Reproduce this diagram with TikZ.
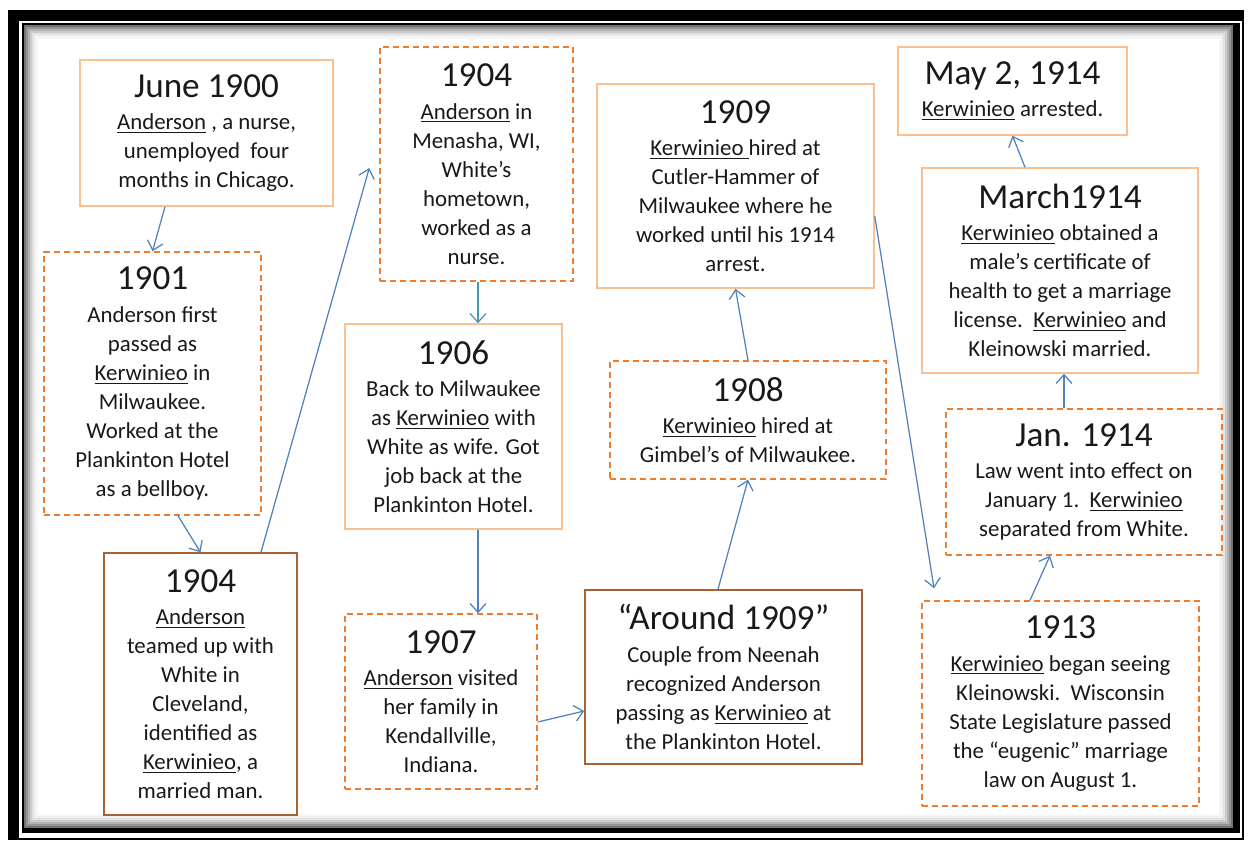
\documentclass[tikz,border=0pt]{standalone}
\usepackage{fontspec}
\setmainfont{Carlito}
\usepackage{tikz}
\usetikzlibrary{arrows.meta, calc}
\definecolor{arrowblue}{RGB}{79,129,189}
\definecolor{arrowteal}{RGB}{75,150,170}
\definecolor{dashorange}{RGB}{237,125,49}
\definecolor{peachline}{RGB}{250,192,143}
\definecolor{brownline}{RGB}{168,98,48}
\newcommand{\yrfont}{\fontsize{20}{24}\selectfont}
\tikzset{
  base/.style={line width=0.85pt, align=center, inner sep=2pt,
               font=\fontsize{13}{16.5}\selectfont, text=black!90},
  plainbox/.style = {base, draw=peachline},
  dashbox/.style  = {base, draw=dashorange, dash pattern=on 3.4pt off 2.3pt},
  keybox/.style   = {base, draw=brownline},
  arr/.style      = {-{Straight Barb[length=5pt,width=9pt]}, line width=0.7pt, color=arrowblue},
}

\begin{document}
\begin{tikzpicture}
  \useasboundingbox (0,0) rectangle (24.96,-16.82);

  % page frame
  \fill[black] (0.16,-0.20) rectangle (24.88,-16.80);
  \fill[white] (0.38,-0.42) rectangle (24.84,-16.76);
  \fill[black] (0.44,-0.46) rectangle (24.80,-16.66);
  \fill[white] (0.48,-0.50) rectangle (24.66,-16.56);
  \foreach \i/\c in {0/55,1/42,2/30,3/20,4/12,5/6,6/3}
    \draw[black!\c, line width=0.045cm]
      ({0.50+0.04*\i},{-0.52-0.04*\i}) rectangle ({24.64-0.04*\i},{-16.54+0.04*\i});

  % left column
  \node[plainbox, minimum width=5.06cm, minimum height=2.92cm] (jun1900) at (4.13,-2.66)
    {{\yrfont June 1900}\\[2pt] \underline{Anderson} , a nurse,\\ unemployed\ \ four\\ months in Chicago.};
  \node[dashbox, minimum width=4.34cm, minimum height=5.26cm] (y1901) at (3.05,-7.67)
    {{\yrfont 1901}\\[2pt] Anderson first\\ passed as\\ \underline{Kerwinieo} in\\ Milwaukee.\\ Worked at the\\ Plankinton Hotel\\ as a bellboy.};
  \node[keybox, minimum width=3.86cm, minimum height=5.24cm] (y1904a) at (4.01,-13.68)
    {{\yrfont 1904}\\[2pt] \underline{Anderson}\\ teamed up with\\ White in\\ Cleveland,\\ identified as\\ \underline{Kerwinieo}, a\\ married man.};

  % second column
  \node[dashbox, minimum width=3.86cm, minimum height=4.68cm] (y1904b) at (9.53,-3.28)
    {{\yrfont 1904}\\[2pt] \underline{Anderson} in\\ Menasha, WI,\\ White’s\\ hometown,\\ worked as a\\ nurse.};
  \node[plainbox, minimum width=4.34cm, minimum height=4.10cm] (y1906) at (9.07,-8.53)
    {{\yrfont 1906}\\[2pt] Back to Milwaukee\\ as \underline{Kerwinieo} with\\ White as wife. Got\\ job back at the\\ Plankinton Hotel.};
  \node[dashbox, minimum width=3.84cm, minimum height=3.50cm] (y1907) at (8.82,-14.03)
    {{\yrfont 1907}\\[2pt] \underline{Anderson} visited\\ her family in\\ Kendallville,\\ Indiana.};

  % third column
  \node[keybox, minimum width=5.54cm, minimum height=3.48cm] (around) at (14.47,-13.54)
    {{\yrfont “Around 1909”}\\[2pt] Couple from Neenah\\ recognized Anderson\\ passing as \underline{Kerwinieo} at\\ the Plankinton Hotel.};
  \node[dashbox, minimum width=5.52cm, minimum height=2.36cm] (y1908) at (14.96,-8.40)
    {{\yrfont 1908}\\[2pt] \underline{Kerwinieo} hired at\\ Gimbel’s of Milwaukee.};
  \node[plainbox, minimum width=5.54cm, minimum height=4.08cm] (y1909) at (14.71,-3.72)
    {{\yrfont 1909}\\[2pt] \underline{Kerwinieo\ }hired at\\ Cutler-Hammer of\\ Milwaukee where he\\ worked until his 1914\\ arrest.};

  % right column
  \node[dashbox, minimum width=5.54cm, minimum height=4.10cm] (y1913) at (21.21,-14.07)
    {{\yrfont 1913}\\[2pt] \underline{Kerwinieo} began seeing\\ Kleinowski.\ \ Wisconsin\\ State Legislature passed\\ the “eugenic” marriage\\ law on August 1.};
  \node[dashbox, minimum width=5.52cm, minimum height=2.92cm] (jan1914) at (21.68,-9.64)
    {{\yrfont Jan. 1914}\\[2pt] Law went into effect on\\ January 1.\ \ \underline{Kerwinieo}\\ separated from White.};
  \node[plainbox, minimum width=5.52cm, minimum height=4.10cm] (mar1914) at (21.20,-5.41)
    {{\yrfont March1914}\\[2pt] \underline{Kerwinieo} obtained a\\ male’s certificate of\\ health to get a marriage\\ license.\ \ \underline{Kerwinieo} and\\ Kleinowski married.};
  \node[plainbox, minimum width=4.58cm, minimum height=1.76cm] (may1914) at (20.25,-1.82)
    {{\yrfont May 2, 1914}\\[2pt] \underline{Kerwinieo} arrested.};

  % connectors
  \draw[arr] ([xshift=-0.83cm]jun1900.south) -- (y1901.north);
  \draw[arr] ([xshift=0.51cm]y1901.south) -- (y1904a.north);
  \draw[arr] ([xshift=1.21cm]y1904a.north) -- ([xshift=-0.2cm,yshift=-0.08cm]y1904b.west);
  \draw[arr,color=arrowteal] ([xshift=0.03cm]y1904b.south) -- ([xshift=0.03cm]y1904b.south |- y1906.north);
  \draw[arr] ([xshift=0.49cm]y1906.south) -- ([xshift=0.49cm]y1906.south |- y1907.north);
  \draw[arr] ([yshift=-0.41cm]y1907.east) -- ([yshift=-0.68cm]around.west);
  \draw[arr] ([xshift=-0.11cm]around.north) -- (y1908.south);
  \draw[arr] (y1908.north) -- (y1909.south);
  \draw[arr] ([yshift=-0.6cm]y1909.east) -- ([xshift=-2.53cm,yshift=0.24cm]y1913.north);
  \draw[arr] ([xshift=-0.61cm]y1913.north) -- ([xshift=-0.68cm]jan1914.south);
  \draw[arr] ([xshift=-0.4cm]jan1914.north) -- ([xshift=-0.4cm]jan1914.north |- mar1914.south);
  \draw[arr] ([xshift=-0.7cm]mar1914.north) -- (may1914.south);

\end{tikzpicture}
\end{document}
